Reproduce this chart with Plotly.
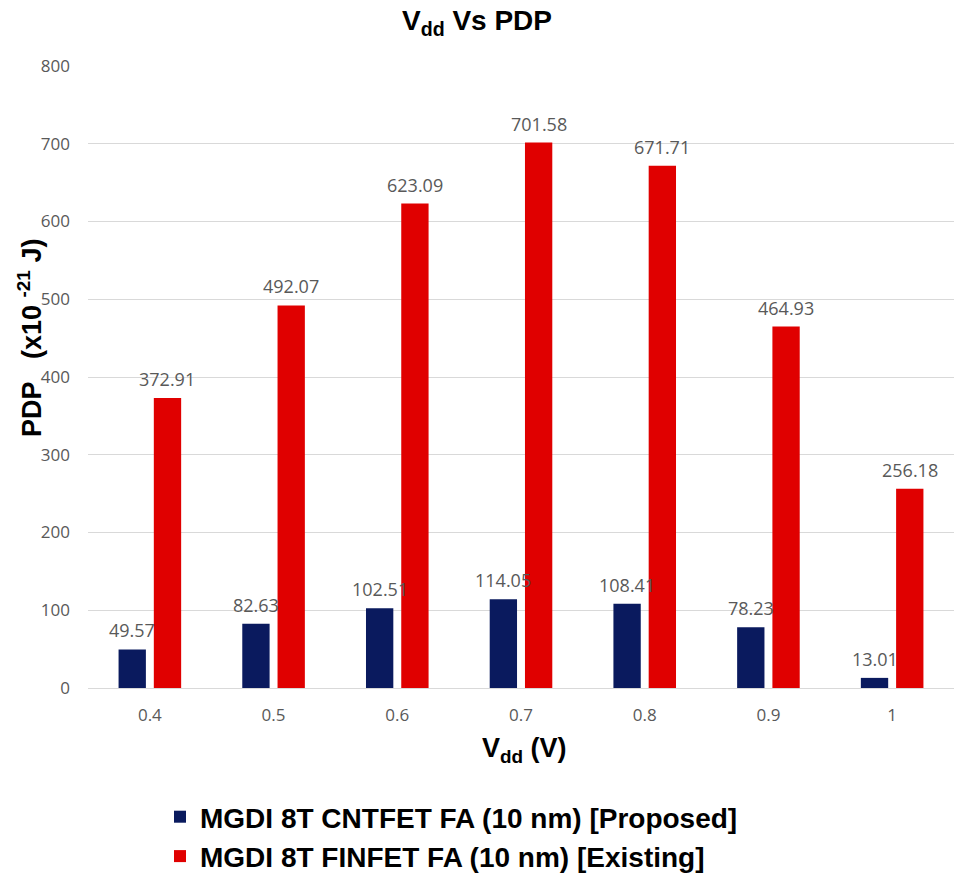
import plotly.graph_objects as go

# Supply voltage categories and PDP values (x10^-21 J)
vdd = ["0.4", "0.5", "0.6", "0.7", "0.8", "0.9", "1"]
cntfet_pdp = [49.57, 82.63, 102.51, 114.05, 108.41, 78.23, 13.01]
finfet_pdp = [372.91, 492.07, 623.09, 701.58, 671.71, 464.93, 256.18]
series_names = [
    "MGDI 8T CNTFET FA (10 nm) [Proposed]",
    "MGDI 8T FINFET FA (10 nm) [Existing]",
]
y_ticks = [0, 100, 200, 300, 400, 500, 600, 700, 800]

BLUE = "#0a1a5e"
RED = "#e00000"
TICK_FONT = dict(family="Open Sans, Liberation Sans, sans-serif", size=17, color="#595959")
LABEL_FONT = dict(family="Open Sans, Liberation Sans, sans-serif", size=18, color="#595959")
BOLD_FONT = "Liberation Sans, Arial, sans-serif"
NB = "\u00a0"

# plot area in pixels
L, R, T, B = 88, 0, 66, 196
W, H = 954, 884

BARGAP = 0.43
GROUPGAP = 0.225
slot = (1 - BARGAP) / 2  # width of each series slot in category units

fig = go.Figure()
for name, vals, color in [(series_names[0], cntfet_pdp, BLUE), (series_names[1], finfet_pdp, RED)]:
    fig.add_trace(go.Bar(
        x=list(range(len(vdd))), y=vals, name=name,
        marker=dict(color=color, line=dict(width=0)),
    ))

# value labels above each bar
annotations = []
for k, vals in enumerate([cntfet_pdp, finfet_pdp]):
    off = (k - 0.5) * slot
    for i, v in enumerate(vals):
        annotations.append(dict(
            x=i + off, y=v, xref="x", yref="y", text=f"{v:.2f}",
            showarrow=False, xanchor="center", yanchor="bottom", yshift=5,
            font=LABEL_FONT,
        ))

pw, ph = W - L - R, H - T - B
# chart title
annotations.append(dict(
    text=f"<b>V<sub>dd</sub>{NB}Vs{NB}PDP</b>", xref="paper", yref="paper",
    x=(477 - L) / pw, y=1, yshift=44, xanchor="center", yanchor="middle",
    showarrow=False, font=dict(family=BOLD_FONT, size=28, color="#000000"),
))
# x-axis title
annotations.append(dict(
    text=f"<b>V<sub>dd</sub>{NB}(V)</b>", xref="paper", yref="paper",
    x=(524 - L) / pw, y=0, yshift=-62, xanchor="center", yanchor="middle",
    showarrow=False, font=dict(family=BOLD_FONT, size=27, color="#000000"),
))
# y-axis title
annotations.append(dict(
    text=f"<b>PDP{NB}{NB}{NB}(x10{NB}<sup>-21</sup>{NB}J)</b>", xref="paper", yref="paper",
    x=0, xshift=30 - L, y=(H - B - 338) / ph, xanchor="center", yanchor="middle",
    showarrow=False, textangle=-90,
    font=dict(family=BOLD_FONT, size=27, color="#000000"),
))

fig.update_layout(
    width=W, height=H,
    margin=dict(l=L, r=R, t=T, b=B, autoexpand=False),
    paper_bgcolor="white", plot_bgcolor="white",
    barmode="group", bargap=BARGAP, bargroupgap=GROUPGAP,
    showlegend=True,
    legend=dict(
        orientation="v", x=160 / W, xref="container", xanchor="left",
        y=(H - 792) / H, yref="container", yanchor="top",
        font=dict(family=BOLD_FONT, size=28, color="#000000", weight="bold"),
        itemsizing="constant", tracegroupgap=4, bgcolor="rgba(0,0,0,0)",
    ),
    annotations=annotations,
)
fig.update_xaxes(
    tickmode="array", tickvals=list(range(len(vdd))), ticktext=vdd,
    range=[-0.5, len(vdd) - 0.5],
    showgrid=False, showline=True, linecolor="#d9d9d9", linewidth=1,
    ticks="", tickfont=TICK_FONT, ticklabelstandoff=12,
)
fig.update_yaxes(
    range=[0, 800], tickvals=y_ticks, showgrid=True, gridcolor="#d9d9d9",
    gridwidth=1, zeroline=False, showline=False, ticks="",
    tickfont=TICK_FONT, ticklabelstandoff=17,
)

fig.write_html("out.html")
